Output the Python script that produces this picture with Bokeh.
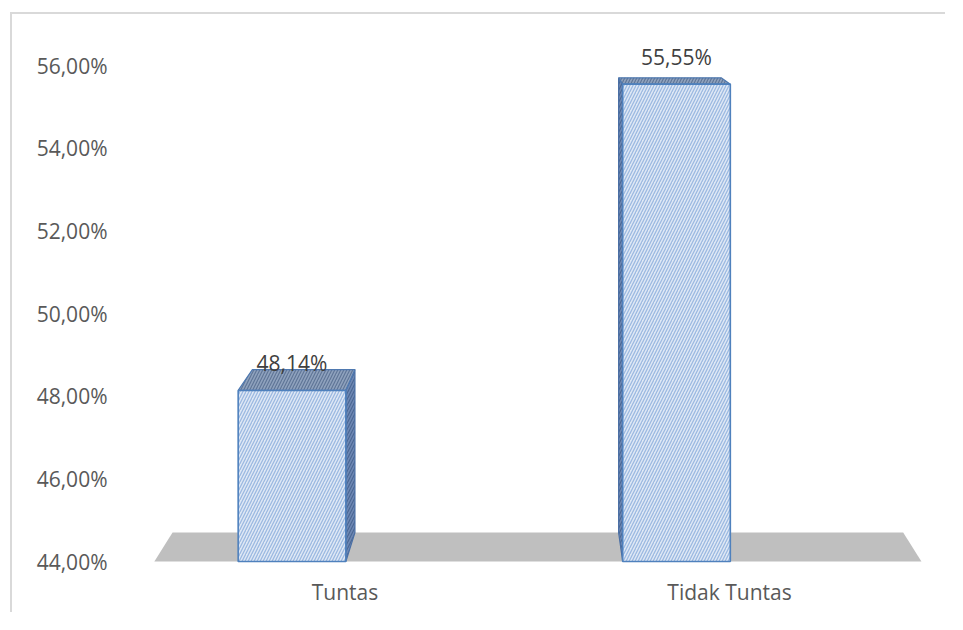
from bokeh.plotting import figure
from bokeh.models import Range1d, FixedTicker, ColumnDataSource
from bokeh.embed import file_html
from bokeh.resources import INLINE
from bokeh.core.properties import value

# ---------------- data ----------------
categories = ["Tuntas", "Tidak Tuntas"]
percentages = [48.14, 55.55]
value_labels = ["48,14%", "55,55%"]
y_ticks = [44, 46, 48, 50, 52, 54, 56]
y_tick_labels = ["44,00%", "46,00%", "48,00%", "50,00%", "52,00%", "54,00%", "56,00%"]

# ---------------- 3D styling constants ----------------
BASE = 44.0          # floor level (axis minimum)
HALF = 0.14          # half width of a bar front face (x units)
VPX, VPY = 0.6385, 58.76   # perspective vanishing point (data units)
S = 0.9525           # depth scale of the back face
FLOOR_PAD_L, FLOOR_PAD_R = 0.358, 0.637

FONT = value("Open Sans")

def back(x, y):
    return VPX + (x - VPX) * S, VPY + (y - VPY) * S

xs = list(range(len(categories)))

p = figure(width=935, height=600, output_backend="svg", toolbar_location=None,
           x_range=Range1d(-0.368, 1.6866), y_range=Range1d(42.767, 56.80),
           min_border_left=138, min_border_right=7, min_border_top=18, min_border_bottom=2)
p.margin = (12, 0, 0, 10)
p.styles = {"border-left": "2px solid #d9d9d9", "border-top": "2px solid #d9d9d9"}
p.background_fill_color = "white"
p.border_fill_color = "white"
p.outline_line_color = None
p.grid.visible = False
p.xaxis.visible = False

ya = p.yaxis[0]
ya.ticker = FixedTicker(ticks=y_ticks)
ya.major_label_overrides = dict(zip(y_ticks, y_tick_labels))
ya.axis_line_color = None
ya.major_tick_line_color = None
ya.minor_tick_line_color = None
ya.major_label_standoff = 37
ya.major_label_text_font = "Open Sans"
ya.major_label_text_font_size = "21px"
ya.major_label_text_color = "#595959"

# floor
fl = xs[0] - FLOOR_PAD_L
fr = xs[-1] + FLOOR_PAD_R
bl = back(fl, BASE)
br = back(fr, BASE)
p.patch([fl, fr, br[0], bl[0]], [BASE, BASE, br[1], bl[1]],
        fill_color="#bfbfbf", line_color=None)

# side faces and top faces
side_xs, side_ys, top_xs, top_ys = [], [], [], []
for x, v in zip(xs, percentages):
    x0, x1 = x - HALF, x + HALF
    ex = x1 if x1 < VPX else x0
    bt = back(ex, v)
    bb = back(ex, BASE)
    side_xs.append([ex, ex, bt[0], bb[0]])
    side_ys.append([BASE, v, bt[1], bb[1]])
    b0 = back(x0, v)
    b1 = back(x1, v)
    top_xs.append([x0, x1, b1[0], b0[0]])
    top_ys.append([v, v, b1[1], b0[1]])

p.patches(side_xs, side_ys, fill_color="#6f88b4", line_color="#4a6fa5", line_width=1.2,
          hatch_pattern="/", hatch_color="#4a6793", hatch_scale=6, hatch_weight=1.2)
p.patches(top_xs, top_ys, fill_color="#8fa2bd", line_color="#4f79b0", line_width=1.2,
          hatch_pattern="/", hatch_color="#5f7597", hatch_scale=6, hatch_weight=1.2)

src = ColumnDataSource(dict(x=xs, top=percentages, cat=categories, lab=value_labels))
p.quad(left=[x - HALF for x in xs], right=[x + HALF for x in xs], bottom=BASE, top=percentages,
       fill_color="#dfe8f5", line_color="#4f81bd", line_width=1.6,
       hatch_pattern="/", hatch_color="#9bb9e1", hatch_scale=6, hatch_weight=1.3)

p.text(x="x", y="top", text="lab", source=src, text_font=FONT, text_font_size="21px",
       text_color="#404040", text_align="center", text_baseline="middle", y_offset=-27)

p.text(x="x", y=BASE, text="cat", source=src, text_font=FONT, text_font_size="21px",
       text_color="#595959", text_align="center", text_baseline="middle",
       x_offset=53, y_offset=30)

open("out.html", "w").write(file_html(p, INLINE))
